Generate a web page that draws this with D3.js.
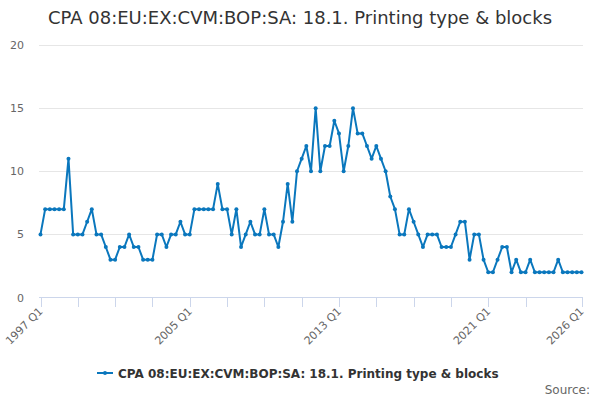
<!DOCTYPE html>
<html><head><meta charset="utf-8">
<script src="https://cdn.jsdelivr.net/npm/d3@7"></script>
<style>body{margin:0;background:#fff}svg{font-family:"DejaVu Sans",sans-serif}</style>
</head><body><svg id="c" width="600" height="400"></svg>
<script>
const title = "CPA 08:EU:EX:CVM:BOP:SA: 18.1. Printing type & blocks";
const startYear = 1997;
const values = [
5,7,7,7,7,7,11,5,5,5,6,7,5,5,4,3,3,4,4,5,4,4,3,3,3,5,5,4,5,5,
6,5,5,7,7,7,7,7,9,7,7,5,7,4,5,6,5,5,7,5,5,4,6,9,6,10,11,12,10,15,
10,12,12,14,13,10,12,15,13,13,12,11,12,11,10,8,7,5,5,7,6,5,4,5,5,5,4,4,4,5,
6,6,3,5,5,3,2,2,3,4,4,2,3,2,2,3,2,2,2,2,2,3,2,2,2,2,2];
const categories = values.map((v,i)=> (startYear+Math.floor(i/4))+" Q"+(i%4+1));
const yTicks = [0,5,10,15,20];
const labelCats = ["1997 Q1","2005 Q1","2013 Q1","2021 Q1","2026 Q1"];
const tickCats = ["1997 Q1","1999 Q1","2001 Q1","2003 Q1","2005 Q1","2007 Q1","2009 Q1","2011 Q1","2013 Q1","2015 Q1","2017 Q1","2019 Q1","2021 Q1","2023 Q1","2026 Q1"];

const svg = d3.select("#c");
const color = "#0a77bd";
const x = d3.scalePoint().domain(categories).range([40.5, 581.5]);
const y = d3.scaleLinear().domain([0,20]).range([297.5, 45]);

svg.append("text").attr("x",300).attr("y",24).attr("text-anchor","middle")
  .attr("font-size",18).attr("fill","#333").text(title);

// grid
svg.append("g").selectAll("line").data(yTicks.filter(d=>d>0)).join("line")
  .attr("x1",39).attr("x2",583).attr("y1",d=>Math.round(y(d))+0.5).attr("y2",d=>Math.round(y(d))+0.5)
  .attr("stroke","#e6e6e6");
svg.append("g").selectAll("text").data(yTicks).join("text")
  .attr("x",24).attr("y",d=>y(d)+4).attr("text-anchor","end")
  .attr("font-size",11).attr("fill","#666").text(d=>d);

// x axis
svg.append("line").attr("x1",39).attr("x2",583).attr("y1",297.5).attr("y2",297.5).attr("stroke","#ccd6eb");
svg.append("g").selectAll("line").data(tickCats).join("line")
  .attr("x1",d=>Math.round(x(d))+0.5).attr("x2",d=>Math.round(x(d))+0.5)
  .attr("y1",297.5).attr("y2",307).attr("stroke","#ccd6eb");
svg.append("g").selectAll("text").data(labelCats).join("text")
  .attr("transform",d=>`translate(${x(d)+3},${312}) rotate(-45)`)
  .attr("text-anchor","end").attr("font-size",11).attr("fill","#666").text(d=>d);

// line
const line = d3.line().x((d,i)=>x(categories[i])).y(d=>y(d));
svg.append("path").datum(values).attr("d",line).attr("fill","none")
  .attr("stroke",color).attr("stroke-width",2).attr("stroke-linejoin","round");
svg.append("g").selectAll("circle").data(values).join("circle")
  .attr("cx",(d,i)=>x(categories[i])).attr("cy",d=>y(d)).attr("r",2).attr("fill",color);

// legend
const lg = svg.append("g");
lg.append("line").attr("x1",97).attr("x2",113).attr("y1",373).attr("y2",373).attr("stroke",color).attr("stroke-width",2);
lg.append("circle").attr("cx",105).attr("cy",373).attr("r",2).attr("fill",color);
lg.append("text").attr("x",118).attr("y",377.5).attr("font-size",12).attr("font-weight","bold").attr("fill","#333").text(title);

svg.append("text").attr("x",590).attr("y",394).attr("text-anchor","end").attr("font-size",12).attr("fill","#666").text("Source:");
</script></body></html>
